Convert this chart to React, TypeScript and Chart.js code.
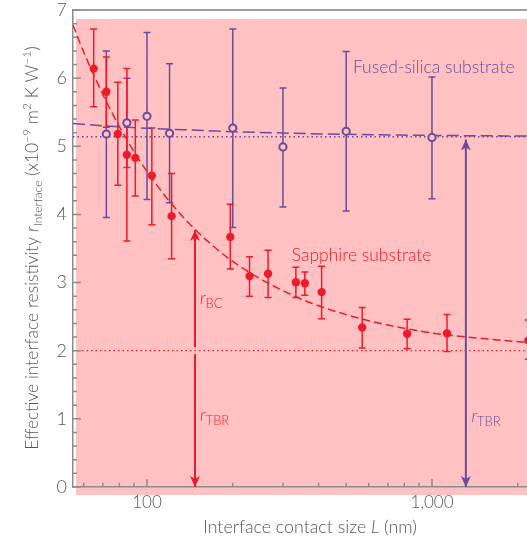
import { useEffect, useRef } from 'react';
import { Chart, registerables } from 'chart.js';

Chart.register(...registerables);

// ---------- colours & fonts ----------
const RED = '#ec1c2a';
const PURPLE = '#6a4c9c';
const PINK = '#ffc1c1';
const TEXT_GREY = '#555555';
const AXIS_GREY = '#8c8c8c';
const FONT = 'Lato';
const WEIGHT = '300';

// ---------- data ----------
// Sapphire substrate (filled red circles), L in nm, r in 1e-9 m^2 K/W
const sapphireL = [65, 72, 79, 85, 91, 104, 122, 196, 229, 266, 333, 358, 410, 569, 818, 1129, 2180];
const sapphireR = [6.14, 5.8, 5.18, 4.875, 4.83, 4.57, 3.975, 3.67, 3.095, 3.13, 3.005, 2.99, 2.86, 2.34, 2.25, 2.255, 2.15];
const sapphireHi = [6.72, 6.31, 5.94, 6.14, 5.385, 5.27, 4.6, 4.15, 3.38, 3.475, 3.225, 3.155, 3.24, 2.635, 2.46, 2.53, 2.45];
const sapphireLo = [5.58, 5.28, 4.43, 3.61, 4.27, 3.85, 3.35, 3.2, 2.8, 2.78, 2.78, 2.815, 2.47, 2.04, 2.03, 1.99, 1.875];

// Fused-silica substrate (open purple circles)
const silicaL = [72, 85, 100, 120, 200, 300, 500, 1000];
const silicaR = [5.18, 5.345, 5.44, 5.19, 5.267, 4.99, 5.22, 5.13];
const silicaHi = [6.4, 6.0, 6.67, 6.21, 6.72, 5.855, 6.39, 6.016];
const silicaLo = [3.955, 4.69, 4.22, 4.17, 3.81, 4.11, 4.05, 4.23];

// Fit curves
const sapphireFitL = [55, 60, 70, 80, 90, 100, 120, 150, 200, 300, 400, 600, 800, 1000, 1500, 2155];
const sapphireFitR = [6.78, 6.38, 5.76, 5.29, 4.92, 4.63, 4.19, 3.75, 3.31, 2.88, 2.66, 2.44, 2.33, 2.26, 2.18, 2.12];
const silicaFitL = [55, 70, 100, 150, 200, 300, 500, 1000, 2155];
const silicaFitR = [5.335, 5.3, 5.265, 5.235, 5.215, 5.195, 5.175, 5.16, 5.15];

// Asymptotes (r_TBR levels)
const sapphireTBR = 2.0;
const silicaTBR = 5.14;

// Arrow positions (L in nm) and extents
const sapphireArrowL = 147.4;
const sapphireBCTop = 3.77;
const silicaArrowL = 1315;
const silicaArrowTop = 5.1;

// Axis ranges & ticks
const xMin = 55;
const xMax = 2155;
const yMin = 0;
const yMax = 7;
const xMajorTicks = [100, 1000];
const xMinorTicks = [60, 70, 80, 90, 200, 300, 400, 500, 600, 700, 800, 900, 2000];
const xTickLabels = ['100', '1,000'];
const yMajorTicks = [0, 1, 2, 3, 4, 5, 6, 7];

type Seg = { t: string; size: number; italic?: boolean; dy?: number };

function segFont(s: Seg) {
  return `${s.italic ? 'italic ' : ''}${WEIGHT} ${s.size}px ${FONT}`;
}

function richWidth(ctx: CanvasRenderingContext2D, segs: Seg[]) {
  let w = 0;
  for (const s of segs) {
    ctx.font = segFont(s);
    w += ctx.measureText(s.t).width;
  }
  return w;
}

function drawRich(
  ctx: CanvasRenderingContext2D,
  segs: Seg[],
  x: number,
  baseline: number,
  align: 'left' | 'center',
  color: string
) {
  ctx.save();
  ctx.fillStyle = color;
  ctx.textBaseline = 'alphabetic';
  ctx.textAlign = 'left';
  let cx = align === 'center' ? x - richWidth(ctx, segs) / 2 : x;
  for (const s of segs) {
    ctx.font = segFont(s);
    ctx.fillText(s.t, cx, baseline + (s.dy || 0));
    cx += ctx.measureText(s.t).width;
  }
  ctx.restore();
}

function drawErrorBars(chart: any, L: number[], lo: number[], hi: number[], color: string) {
  const { ctx } = chart;
  const xs = chart.scales.x;
  const ys = chart.scales.y;
  const cap = 3.5;
  ctx.save();
  ctx.strokeStyle = color;
  ctx.lineWidth = 1.5;
  ctx.beginPath();
  for (let i = 0; i < L.length; i++) {
    const px = xs.getPixelForValue(L[i]);
    const pt = ys.getPixelForValue(hi[i]);
    const pb = ys.getPixelForValue(lo[i]);
    ctx.moveTo(px, pt);
    ctx.lineTo(px, pb);
    ctx.moveTo(px - cap, pt);
    ctx.lineTo(px + cap, pt);
    ctx.moveTo(px - cap, pb);
    ctx.lineTo(px + cap, pb);
  }
  ctx.stroke();
  ctx.restore();
}

function arrowHead(ctx: CanvasRenderingContext2D, x: number, tipY: number, dir: 1 | -1) {
  // dir = -1: pointing up, dir = 1: pointing down
  const w = 5;
  const h = 11;
  ctx.beginPath();
  ctx.moveTo(x, tipY);
  ctx.lineTo(x - w, tipY - dir * h);
  ctx.lineTo(x, tipY - dir * (h - 3));
  ctx.lineTo(x + w, tipY - dir * h);
  ctx.closePath();
  ctx.fill();
}

function drawArrow(
  chart: any,
  L: number,
  from: number,
  to: number,
  color: string,
  headFrom: boolean,
  headTo: boolean
) {
  const { ctx } = chart;
  const px = chart.scales.x.getPixelForValue(L);
  const y1 = chart.scales.y.getPixelForValue(from);
  const y2 = chart.scales.y.getPixelForValue(to);
  ctx.save();
  ctx.strokeStyle = color;
  ctx.fillStyle = color;
  ctx.lineWidth = 2;
  ctx.beginPath();
  ctx.moveTo(px, y1);
  ctx.lineTo(px, y2);
  ctx.stroke();
  if (headTo) arrowHead(ctx, px, y2, y2 > y1 ? 1 : -1);
  if (headFrom) arrowHead(ctx, px, y1, y1 > y2 ? 1 : -1);
  ctx.restore();
}

const figurePlugin = {
  id: 'figurePlugin',
  beforeDraw(chart: any) {
    const { ctx, chartArea: ca, width } = chart;
    ctx.save();
    ctx.fillStyle = PINK;
    ctx.fillRect(ca.left + 3, ca.top + 9, width - ca.left - 3, ca.bottom - ca.top - 1);
    // top frame line
    ctx.strokeStyle = '#a0a0a0';
    ctx.lineWidth = 2;
    ctx.beginPath();
    ctx.moveTo(ca.left, ca.top);
    ctx.lineTo(width, ca.top);
    ctx.stroke();
    ctx.restore();
  },
  beforeDatasetsDraw(chart: any) {
    drawErrorBars(chart, silicaL, silicaLo, silicaHi, PURPLE);
    drawErrorBars(chart, sapphireL, sapphireLo, sapphireHi, RED);
  },
  afterDatasetsDraw(chart: any) {
    const { ctx, chartArea: ca } = chart;
    const xs = chart.scales.x;
    const ys = chart.scales.y;

    // inward tick marks
    ctx.save();
    ctx.strokeStyle = AXIS_GREY;
    ctx.lineWidth = 1.5;
    ctx.beginPath();
    for (const v of xMajorTicks) {
      const px = xs.getPixelForValue(v);
      ctx.moveTo(px, ca.bottom);
      ctx.lineTo(px, ca.bottom - 8);
    }
    for (const v of xMinorTicks) {
      const px = xs.getPixelForValue(v);
      ctx.moveTo(px, ca.bottom);
      ctx.lineTo(px, ca.bottom - 4);
    }
    for (const v of yMajorTicks) {
      const py = ys.getPixelForValue(v);
      ctx.moveTo(ca.left, py);
      ctx.lineTo(ca.left + 8, py);
    }
    for (let k = 1; k < (yMax - yMin) * 5; k++) {
      if (k % 5 === 0) continue;
      const py = ys.getPixelForValue(yMin + k * 0.2);
      ctx.moveTo(ca.left, py);
      ctx.lineTo(ca.left + 4, py);
    }
    ctx.stroke();
    ctx.restore();

    // arrows
    drawArrow(chart, sapphireArrowL, sapphireTBR + 0.05, sapphireBCTop, RED, false, true);
    drawArrow(chart, sapphireArrowL, sapphireTBR - 0.05, 0, RED, false, true);
    drawArrow(chart, silicaArrowL, silicaArrowTop, 0, PURPLE, true, true);

    // annotation labels
    const X = (v: number) => xs.getPixelForValue(v);
    const Y = (v: number) => ys.getPixelForValue(v);
    drawRich(ctx, [{ t: 'Fused-silica substrate', size: 17.5 }], X(528), Y(6.16) + 6, 'left', PURPLE);
    drawRich(ctx, [{ t: 'Sapphire substrate', size: 17.5 }], X(322), Y(3.4) + 6, 'left', RED);
    drawRich(
      ctx,
      [
        { t: 'r', size: 17, italic: true },
        { t: 'BC', size: 13, dy: 4 },
      ],
      X(153.5),
      Y(2.74) + 4,
      'left',
      RED
    );
    drawRich(
      ctx,
      [
        { t: 'r', size: 17, italic: true },
        { t: 'TBR', size: 13, dy: 4 },
      ],
      X(153.5),
      Y(1.02) + 4,
      'left',
      RED
    );
    drawRich(
      ctx,
      [
        { t: 'r', size: 17, italic: true },
        { t: 'TBR', size: 13, dy: 4 },
      ],
      X(1376),
      Y(1.01) + 4,
      'left',
      PURPLE
    );

    // axis titles
    drawRich(
      ctx,
      [
        { t: 'Interface contact size ', size: 17.8 },
        { t: 'L', size: 17.8, italic: true },
        { t: ' (nm)', size: 17.8 },
      ],
      310,
      533,
      'center',
      TEXT_GREY
    );
    ctx.save();
    ctx.translate(32, 248);
    ctx.rotate(-Math.PI / 2);
    drawRich(
      ctx,
      [
        { t: 'Effective interface resistivity ', size: 17.5 },
        { t: 'r', size: 17.5, italic: true },
        { t: 'Interface', size: 12, dy: 4 },
        { t: ' (x10', size: 17.5 },
        { t: '\u22129', size: 12, dy: -7 },
        { t: ' m', size: 17.5 },
        { t: '2', size: 12, dy: -7 },
        { t: ' K W', size: 17.5 },
        { t: '\u22121', size: 12, dy: -7 },
        { t: ')', size: 17.5 },
      ],
      0,
      6,
      'center',
      TEXT_GREY
    );
    ctx.restore();
  },
};

export default function App() {
  const canvasRef = useRef<HTMLCanvasElement | null>(null);

  useEffect(() => {
    if (!canvasRef.current) return;
    const pts = (xs: number[], ys: number[]) => xs.map((x, i) => ({ x, y: ys[i] }));
    const chart = new Chart(canvasRef.current, {
      type: 'scatter',
      data: {
        datasets: [
          {
            data: pts(silicaL, silicaR),
            pointRadius: 3.6,
            pointBorderWidth: 2,
            borderColor: PURPLE,
            backgroundColor: PINK,
            showLine: false,
            order: 0,
            clip: false,
          } as any,
          {
            data: pts(sapphireL, sapphireR),
            pointRadius: 4.2,
            pointBorderWidth: 0,
            borderColor: RED,
            backgroundColor: RED,
            showLine: false,
            order: 1,
            clip: false,
          } as any,
          {
            data: pts(sapphireFitL, sapphireFitR),
            showLine: true,
            pointRadius: 0,
            borderColor: RED,
            borderWidth: 1.5,
            borderDash: [8, 4],
            cubicInterpolationMode: 'monotone',
            order: 5,
          } as any,
          {
            data: pts(silicaFitL, silicaFitR),
            showLine: true,
            pointRadius: 0,
            borderColor: PURPLE,
            borderWidth: 1.5,
            borderDash: [12, 5],
            cubicInterpolationMode: 'monotone',
            order: 5,
          } as any,
          {
            data: pts([xMin, xMax], [sapphireTBR, sapphireTBR]),
            showLine: true,
            pointRadius: 0,
            borderColor: RED,
            borderWidth: 1.3,
            borderDash: [1.5, 3],
            order: 6,
          } as any,
          {
            data: pts([xMin, xMax], [silicaTBR, silicaTBR]),
            showLine: true,
            pointRadius: 0,
            borderColor: PURPLE,
            borderWidth: 1.3,
            borderDash: [1.5, 3],
            order: 6,
          } as any,
        ],
      },
      options: {
        animation: false,
        responsive: false,
        devicePixelRatio: 1,
        layout: { autoPadding: false, padding: { top: 10, right: 0, left: 0, bottom: 0 } },
        plugins: { legend: { display: false }, tooltip: { enabled: false } },
        scales: {
          x: {
            type: 'logarithmic',
            min: xMin,
            max: xMax,
            grid: { display: false, drawTicks: false },
            border: { display: true, color: AXIS_GREY, width: 1.5 },
            ticks: {
              autoSkip: false,
              maxRotation: 0,
              padding: 5,
              color: TEXT_GREY,
              font: { family: FONT, size: 17, weight: WEIGHT },
              callback: (v: any) => {
                const i = xMajorTicks.indexOf(Number(v));
                return i >= 0 ? xTickLabels[i] : '';
              },
            },
            afterBuildTicks: (s: any) => {
              s.ticks = xMajorTicks.map((v) => ({ value: v }));
            },
            afterFit: (s: any) => {
              s.height = 53;
              s.paddingLeft = 0;
              s.paddingRight = 0;
            },
          },
          y: {
            type: 'linear',
            min: yMin,
            max: yMax,
            grid: { display: false, drawTicks: false },
            border: { display: true, color: AXIS_GREY, width: 1.5 },
            ticks: {
              stepSize: 1,
              padding: 6,
              color: TEXT_GREY,
              font: { family: FONT, size: 18, weight: WEIGHT },
            },
            afterFit: (s: any) => {
              s.width = 73;
              s.paddingTop = 0;
              s.paddingBottom = 0;
            },
          },
        },
      } as any,
      plugins: [figurePlugin],
    });
    return () => chart.destroy();
  }, []);

  return (
    <div style={{ position: 'absolute', left: 0, top: 0, width: 527, height: 540 }}>
      <canvas ref={canvasRef} width={527} height={540} style={{ display: 'block' }} />
    </div>
  );
}
